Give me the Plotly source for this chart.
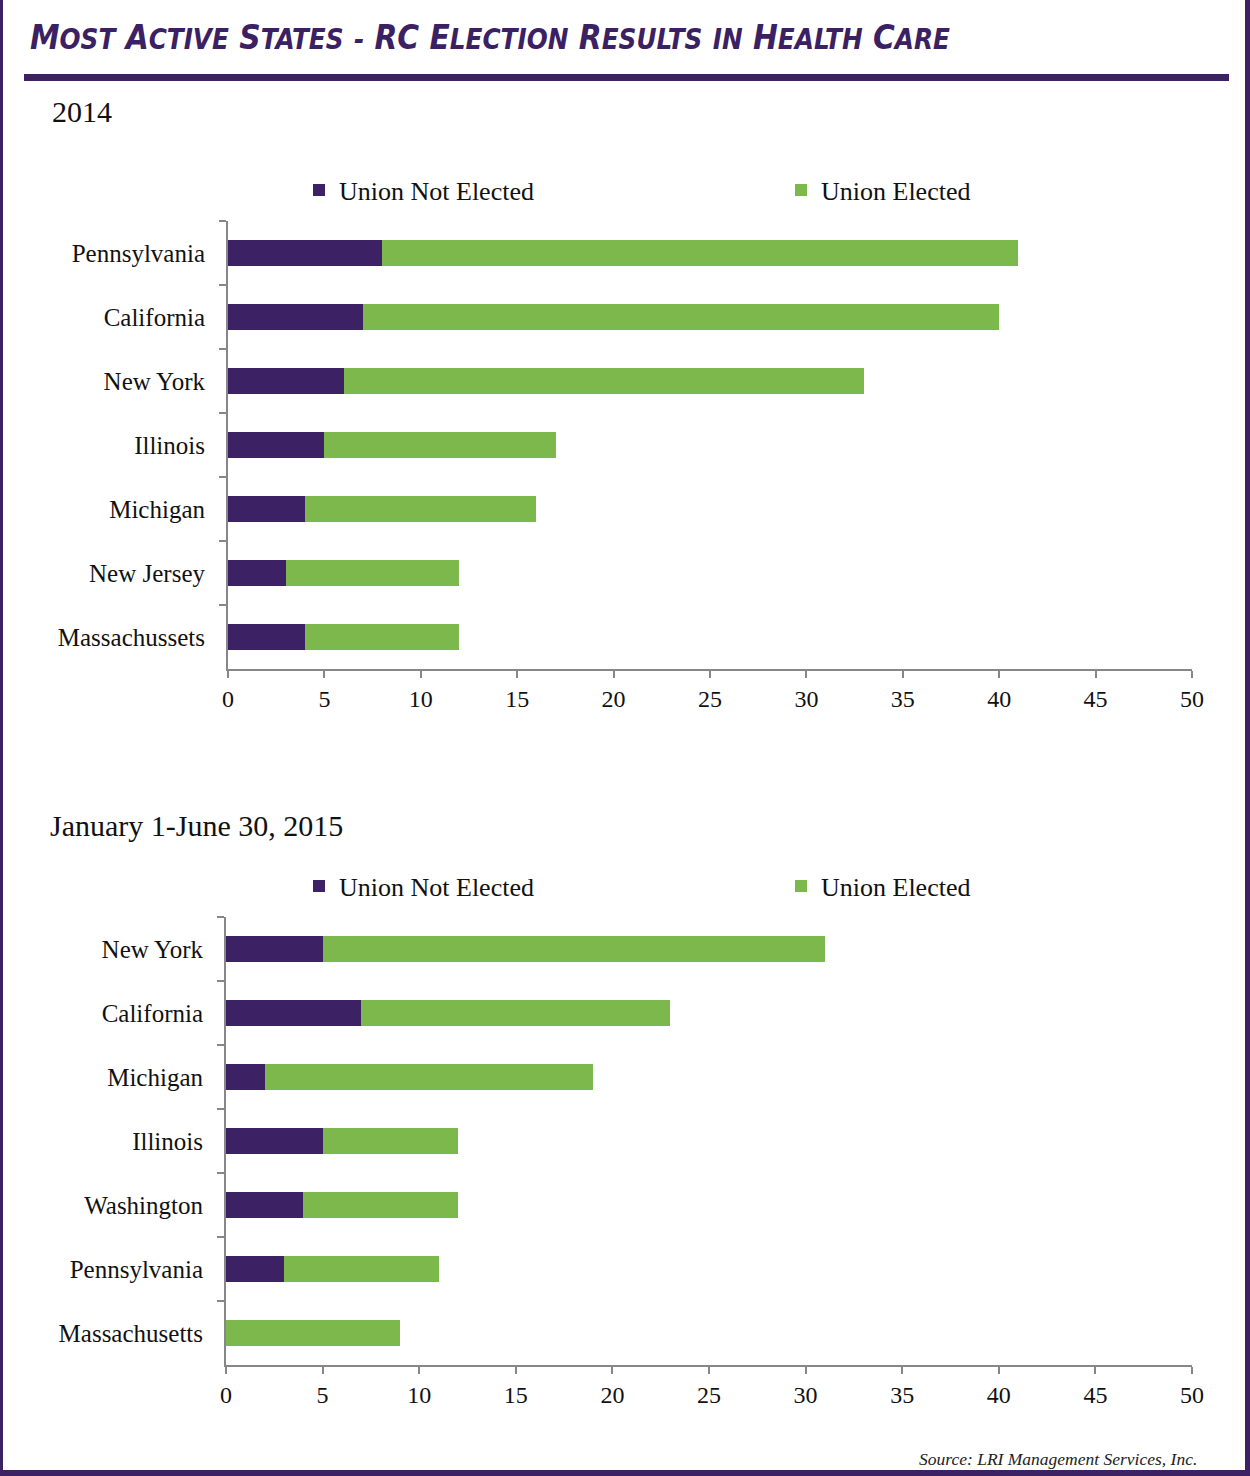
import plotly.graph_objects as go

W, H = 1250, 1476

# ---- Data ----
states_2014 = ["Pennsylvania", "California", "New York", "Illinois", "Michigan", "New Jersey", "Massachussets"]
not_elected_2014 = [8, 7, 6, 5, 4, 3, 4]
elected_2014 = [33, 33, 27, 12, 12, 9, 8]

states_2015 = ["New York", "California", "Michigan", "Illinois", "Washington", "Pennsylvania", "Massachusetts"]
not_elected_2015 = [5, 7, 2, 5, 4, 3, 0]
elected_2015 = [26, 16, 17, 7, 8, 8, 9]

x_ticks = [0, 5, 10, 15, 20, 25, 30, 35, 40, 45, 50]

PURPLE = "#3C2264"
GREEN = "#7DB84D"
AXIS = "#878787"
SERIF = "Liberation Serif, DejaVu Serif, serif"


def px_x(p):
    return p / W


def px_y(p):
    return 1 - p / H


fig = go.Figure()

fig.add_trace(go.Bar(y=states_2014, x=not_elected_2014, orientation="h", name="Union Not Elected",
                     marker=dict(color=PURPLE, line=dict(width=0)), xaxis="x", yaxis="y", legend="legend"))
fig.add_trace(go.Bar(y=states_2014, x=elected_2014, orientation="h", name="Union Elected",
                     marker=dict(color=GREEN, line=dict(width=0)), xaxis="x", yaxis="y", legend="legend2"))
fig.add_trace(go.Bar(y=states_2015, x=not_elected_2015, orientation="h", name="Union Not Elected",
                     marker=dict(color=PURPLE, line=dict(width=0)), xaxis="x2", yaxis="y2", legend="legend3"))
fig.add_trace(go.Bar(y=states_2015, x=elected_2015, orientation="h", name="Union Elected",
                     marker=dict(color=GREEN, line=dict(width=0)), xaxis="x2", yaxis="y2", legend="legend4"))

xaxis_common = dict(range=[0, 50], tickvals=x_ticks, ticktext=[str(v) for v in x_ticks],
                    showgrid=False, zeroline=False, showline=True, linecolor=AXIS, linewidth=2,
                    ticks="outside", ticklen=7, tickcolor=AXIS, tickwidth=2, automargin=False,
                    tickfont=dict(family=SERIF, size=24, color="#111"), fixedrange=True)
yaxis_common = dict(showgrid=False, zeroline=False, showline=True, linecolor=AXIS, linewidth=2,
                    ticks="outside", ticklen=7, tickcolor=AXIS, tickwidth=2, tickson="boundaries",
                    autorange="reversed", ticklabelstandoff=16, automargin=False,
                    tickfont=dict(family=SERIF, size=25, color="#111"), fixedrange=True)

legend_common = dict(orientation="h", xanchor="left", yanchor="middle", bgcolor="rgba(0,0,0,0)",
                     font=dict(family=SERIF, size=26, color="#111"),
                     itemclick=False, itemdoubleclick=False)

fig.update_layout(
    width=W, height=H, margin=dict(l=0, r=0, t=0, b=0, autoexpand=False),
    paper_bgcolor="white", plot_bgcolor="white",
    barmode="stack", bargap=0.6, showlegend=True,
    xaxis=dict(domain=[px_x(228), px_x(1192)], anchor="y", **xaxis_common),
    yaxis=dict(domain=[px_y(669), px_y(221)], anchor="x", categoryorder="array",
               categoryarray=states_2014, **yaxis_common),
    xaxis2=dict(domain=[px_x(226), px_x(1192)], anchor="y2", **xaxis_common),
    yaxis2=dict(domain=[px_y(1365), px_y(917)], anchor="x2", categoryorder="array",
                categoryarray=states_2015, **yaxis_common),
    legend=dict(x=px_x(299), y=px_y(190), **legend_common),
    legend2=dict(x=px_x(781), y=px_y(190), **legend_common),
    legend3=dict(x=px_x(299), y=px_y(886), **legend_common),
    legend4=dict(x=px_x(781), y=px_y(886), **legend_common),
)


def smallcaps(words, big, small):
    parts = []
    for w in words:
        if w == "-":
            parts.append(f"<span style='font-size:{small}px'>-</span>")
        elif w == "in":
            parts.append(f"<span style='font-size:{small}px'>IN</span>")
        elif w.isupper():
            parts.append(f"<span style='font-size:{big}px'>{w}</span>")
        else:
            parts.append(f"<span style='font-size:{big}px'>{w[0]}</span>"
                         f"<span style='font-size:{small}px'>{w[1:].upper()}</span>")
    return " ".join(parts)


title_words = ["Most", "Active", "States", "-", "RC", "Election", "Results", "in", "Health", "Care"]
title_html = smallcaps(title_words, 33, 27.5)

annotations = [
    dict(text="<b><i>" + title_html + "</i></b>", x=px_x(28), y=px_y(38), xref="paper", yref="paper",
         xanchor="left", yanchor="middle", showarrow=False,
         font=dict(family="Liberation Sans Narrow, DejaVu Sans Condensed, Arial Narrow, sans-serif",
                   size=33, color="#3B2163")),
    dict(text="2014", x=px_x(50), y=px_y(112), xref="paper", yref="paper", xanchor="left", yanchor="middle",
         showarrow=False, font=dict(family=SERIF, size=30, color="#111")),
    dict(text="January 1-June 30, 2015", x=px_x(48), y=px_y(825), xref="paper", yref="paper",
         xanchor="left", yanchor="middle", showarrow=False, font=dict(family=SERIF, size=30, color="#111")),
    dict(text="<i>Source: LRI Management Services, Inc.</i>", x=px_x(1199), y=px_y(1459), xref="paper",
         yref="paper", xanchor="right", yanchor="middle", showarrow=False,
         font=dict(family=SERIF, size=17.5, color="#222")),
]
fig.update_layout(annotations=annotations)

shapes = [
    dict(type="rect", xref="paper", yref="paper", x0=px_x(24), x1=px_x(1229), y0=px_y(81), y1=px_y(74),
         fillcolor=PURPLE, line=dict(width=0), layer="above"),
    dict(type="rect", xref="paper", yref="paper", x0=0, x1=px_x(3), y0=0, y1=1,
         fillcolor=PURPLE, line=dict(width=0), layer="above"),
    dict(type="rect", xref="paper", yref="paper", x0=px_x(1245), x1=1, y0=0, y1=1,
         fillcolor=PURPLE, line=dict(width=0), layer="above"),
    dict(type="rect", xref="paper", yref="paper", x0=0, x1=1, y0=0, y1=px_y(1470),
         fillcolor=PURPLE, line=dict(width=0), layer="above"),
]
fig.update_layout(shapes=shapes)

fig.write_html("out.html", config={"displayModeBar": False},
               post_script="document.body.style.margin='0';document.body.style.overflow='hidden';")
